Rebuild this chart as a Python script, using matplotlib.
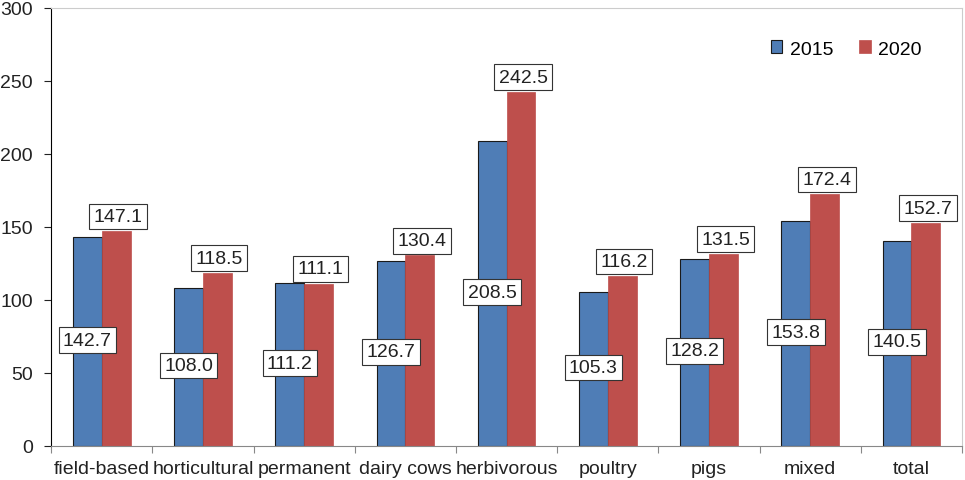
import numpy as np
import matplotlib
matplotlib.use("Agg")
import matplotlib.pyplot as plt

plt.rcParams["font.family"] = ["Liberation Sans", "DejaVu Sans"]

categories = ["field-based", "horticultural", "permanent", "dairy cows", "herbivorous",
              "poultry", "pigs", "mixed", "total"]
values_2015 = [142.7, 108.0, 111.2, 126.7, 208.5, 105.3, 128.2, 153.8, 140.5]
values_2020 = [147.1, 118.5, 111.1, 130.4, 242.5, 116.2, 131.5, 172.4, 152.7]

blue = "#4F7DB6"
red = "#BE4F4C"

fig = plt.figure(figsize=(9.65, 4.81), dpi=100)
ax = fig.add_axes([0.053, 0.071, 0.944, 0.911])

x = np.arange(len(categories))
w = 0.285
ax.bar(x - w / 2, values_2015, w, color=blue, edgecolor="#1a1a1a", linewidth=0.8, label="2015")
ax.bar(x + w / 2, values_2020, w, color=red, edgecolor=red, linewidth=0.5, label="2020")

box = dict(boxstyle="square,pad=0.22", facecolor="white", edgecolor="#333333", linewidth=0.8)
for i in range(len(categories)):
    ax.text(x[i] - w / 2, values_2015[i] / 2 + 1, f"{values_2015[i]:.1f}", ha="center",
            va="center", fontsize=14, color="#222222", bbox=box)
    ax.text(x[i] + w / 2 + 0.02, values_2020[i] + 10, f"{values_2020[i]:.1f}", ha="center",
            va="center", fontsize=14, color="#222222", bbox=box)

ax.set_xlim(-0.5, len(categories) - 0.5)
ax.set_ylim(0, 300)
ax.set_yticks(np.arange(0, 301, 50))
ax.set_xticks(np.arange(-0.5, len(categories), 1))
ax.set_xticklabels([])
ax.set_xticks(x, minor=True)
ax.set_xticklabels(categories, minor=True)
ax.tick_params(axis="x", which="minor", length=0, pad=10, labelsize=14, colors="#222222")
ax.tick_params(axis="x", which="major", length=5, color="#888888")
ax.tick_params(axis="y", length=5, pad=8, labelsize=14, colors="#222222")

ax.spines["left"].set_color("black")
ax.spines["bottom"].set_color("#888888")
ax.spines["top"].set_color("#cccccc")
ax.spines["right"].set_color("#cccccc")

ax.legend(loc="upper right", bbox_to_anchor=(0.975, 0.965), ncol=2, frameon=False,
          fontsize=14, handlelength=0.6, handleheight=0.6, columnspacing=1.3,
          handletextpad=0.4)

fig.savefig("out.png", dpi=100)
